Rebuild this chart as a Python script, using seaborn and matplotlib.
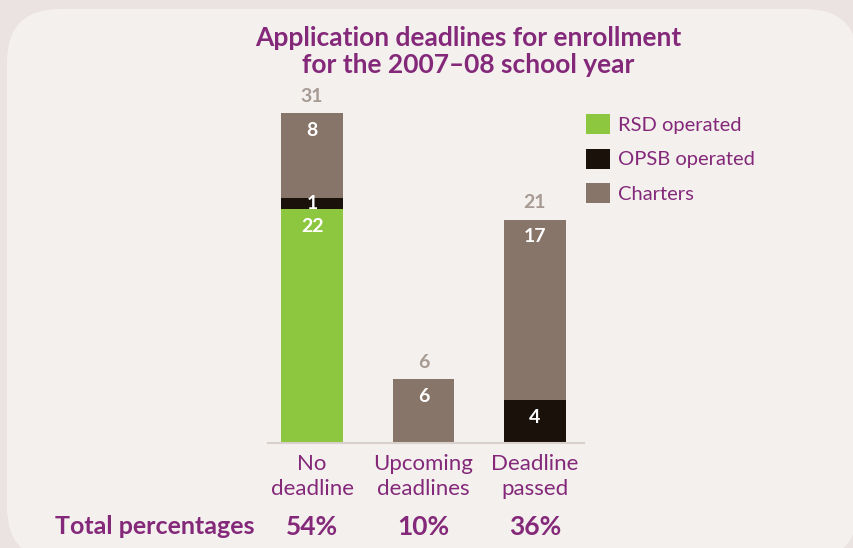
import matplotlib
matplotlib.use("Agg")
import matplotlib.pyplot as plt
import matplotlib.transforms as mtransforms
from matplotlib.patches import FancyBboxPatch, Patch
import seaborn as sns

# data
categories = ["No\ndeadline", "Upcoming\ndeadlines", "Deadline\npassed"]
rsd = [22, 0, 0]
opsb = [1, 0, 4]
charters = [8, 6, 17]
totals = [31, 6, 21]
percentages = ["54%", "10%", "36%"]
series_names = ["RSD operated", "OPSB operated", "Charters"]

GREEN = "#8dc63f"
BLACK = "#1a110b"
BROWN = "#877569"
PURPLE = "#84287a"
TOTAL_GRAY = "#a69a93"
PANEL = "#f4f0ed"
OUTER = "#ebe3e1"

sns.set_theme(style="white")
plt.rcParams["font.family"] = ["Lato", "DejaVu Sans"]

fig = plt.figure(figsize=(8.54, 5.48), dpi=100, facecolor=OUTER)

# rounded panel (pixel coordinates)
panel = FancyBboxPatch((7, -12), 851, 551, boxstyle="round,pad=0,rounding_size=53",
                       transform=mtransforms.IdentityTransform(),
                       facecolor=PANEL, edgecolor="none", zorder=0)
fig.add_artist(panel)

ax = fig.add_axes([268 / 854, 105 / 548, 316 / 854, 351 / 548])
ax.set_facecolor("none")

bar_w = 62 / 111.5
bottom2 = [a + b for a, b in zip(rsd, opsb)]
sns.barplot(x=categories, y=rsd, color=GREEN, width=bar_w, saturation=1,
            ax=ax, linewidth=0)
sns.barplot(x=categories, y=opsb, bottom=rsd, color=BLACK, width=bar_w,
            saturation=1, ax=ax, linewidth=0)
sns.barplot(x=categories, y=charters, bottom=bottom2, color=BROWN, width=bar_w,
            saturation=1, ax=ax, linewidth=0)

ax.set_xlim(-0.395, 2.44)
ax.set_ylim(0, 33)

# segment labels: near the top of each segment, centred for thin ones
for i in range(len(categories)):
    base = 0
    for vals in (rsd, opsb, charters):
        v = vals[i]
        if v > 0:
            y = base + v / 2 if v < 3 else base + v - 1.6
            ax.text(i, y, str(v), ha="center", va="center",
                    color="white", fontsize=14, fontweight="bold")
        base += v
    ax.text(i, totals[i] + 1.6, str(totals[i]), ha="center", va="center",
            color=TOTAL_GRAY, fontsize=14, fontweight="bold")

for s in ["top", "left", "right"]:
    ax.spines[s].set_visible(False)
ax.spines["bottom"].set_color("#d9cfcb")
ax.spines["bottom"].set_linewidth(1.5)
ax.set_yticks([])
ax.tick_params(axis="x", length=0, pad=8, labelsize=16, labelcolor=PURPLE)
for lbl in ax.get_xticklabels():
    lbl.set_linespacing(1.3)
ax.set_xlabel("")
ax.set_ylabel("")

# title
fig.text(468 / 854, 1 - 51.5 / 548,
         "Application deadlines for enrollment\nfor the 2007\u201308 school year",
         ha="center", va="center", fontsize=19, fontweight="bold",
         color=PURPLE, linespacing=1.15)

# legend
handles = [Patch(facecolor=c, edgecolor="none") for c in (GREEN, BLACK, BROWN)]
fig.legend(handles, series_names, loc="upper left",
           bbox_to_anchor=(578 / 854, 1 - 106 / 548), frameon=False,
           fontsize=14.5, labelcolor=PURPLE, handlelength=1.2, handleheight=1.15,
           handletextpad=0.4, labelspacing=0.72, borderaxespad=0)

# total percentages row
trans = mtransforms.blended_transform_factory(ax.transData, fig.transFigure)
fig.text(55 / 854, 1 - 527 / 548, "Total percentages", ha="left", va="center",
         fontsize=18, fontweight="bold", color=PURPLE)
for i, p in enumerate(percentages):
    ax.text(i, 1 - 527 / 548, p, transform=trans, ha="center", va="center",
            fontsize=19, fontweight="bold", color=PURPLE)

fig.savefig("out.png", dpi=100, facecolor=OUTER)
